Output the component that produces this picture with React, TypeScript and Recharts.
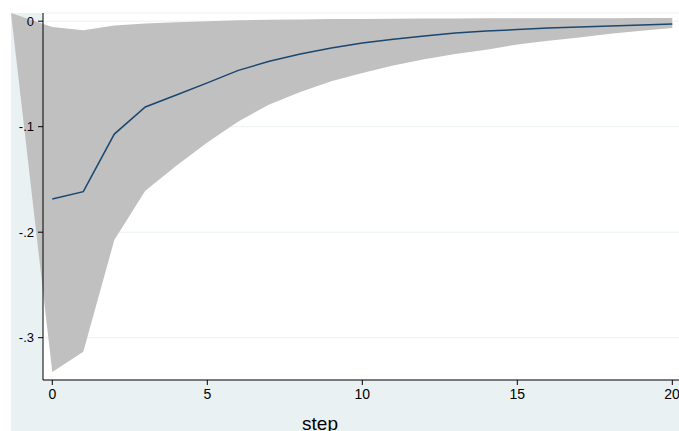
import { Area, CartesianGrid, ComposedChart, Line, XAxis, YAxis } from 'recharts'

// impulse response by step, with its confidence band
const STEPS = [0, 1, 2, 3, 4, 5, 6, 7, 8, 9, 10, 11, 12, 13, 14, 15, 16, 17, 18, 19, 20]
const IRF = [
  -0.1685, -0.1616, -0.107, -0.0813, -0.07, -0.0585, -0.0466, -0.038, -0.031, -0.0254, -0.0207,
  -0.017, -0.014, -0.0112, -0.0093, -0.0079, -0.0064, -0.0055, -0.0045, -0.0036, -0.0027,
]
const LOWER = [
  -0.3325, -0.3133, -0.2075, -0.1607, -0.137, -0.115, -0.095, -0.079, -0.067, -0.057, -0.049,
  -0.042, -0.036, -0.031, -0.027, -0.022, -0.0185, -0.0155, -0.012, -0.009, -0.0065,
]
const UPPER = [
  -0.0055, -0.0086, -0.004, -0.0022, -0.001, 0, 0.0008, 0.0013, 0.0017, 0.002, 0.0022,
  0.0024, 0.0025, 0.0026, 0.0027, 0.0028, 0.0028, 0.0029, 0.0029, 0.003, 0.003,
]
// stray first vertex of the shaded polygon (sits at the graph's top-left corner)
const BAND_START = { step: -1.332, value: 0.00777 }

const X_TICKS = [0, 5, 10, 15, 20]
const Y_TICKS = [-0.3, -0.2, -0.1, 0]
const X_DOMAIN: [number, number] = [-1.332, 20.216]
const Y_DOMAIN: [number, number] = [-0.3401, 0.00777]

const BG = '#EAF1F3'
const BAND = '#C0C0C0'
const NAVY = '#1A476F'
const FONT = '"Liberation Sans", Arial, sans-serif'

const data = [
  { step: BAND_START.step, band: [BAND_START.value, BAND_START.value], irf: null },
  ...STEPS.map((s, i) => ({ step: s, band: [LOWER[i], UPPER[i]], irf: IRF[i] })),
]

const fmtY = (v: number) => (v === 0 ? '0' : String(Number(v.toFixed(2))).replace('0.', '.'))

export default function App() {
  return (
    <div
      style={{ position: 'absolute', left: 0, top: 0, width: 679, height: 431, background: '#fff', fontFamily: FONT }}
    >
      <div style={{ position: 'absolute', left: 11, top: 13, right: 0, bottom: 0, background: BG }} />
      <div style={{ position: 'absolute', left: 43, top: 0, width: 636, height: 380, background: '#fff' }} />
      <ComposedChart
        width={679}
        height={431}
        data={data}
        margin={{ top: 13, right: 0, bottom: 0, left: 0 }}
        style={{ position: 'absolute', left: 0, top: 0 }}
      >
        <CartesianGrid horizontal vertical={false} stroke={BG} strokeWidth={1} />
        <XAxis
          dataKey="step"
          type="number"
          domain={X_DOMAIN}
          ticks={X_TICKS}
          padding={{ left: -32, right: 0 }}
          height={51}
          tickSize={5}
          tickMargin={4}
          stroke="#000"
          tick={{ fill: '#000', fontSize: 14, fontFamily: FONT }}
          label={{ value: 'step', position: 'insideBottom', dx: -41, offset: 1, fill: '#000', fontSize: 19, fontFamily: FONT }}
        />
        <YAxis
          type="number"
          domain={Y_DOMAIN}
          ticks={Y_TICKS}
          width={43}
          tickSize={5}
          tickMargin={4}
          stroke="#000"
          tickFormatter={fmtY}
          tick={{ fill: '#000', fontSize: 13, fontFamily: FONT }}
        />
        <Area
          type="linear"
          dataKey="band"
          stroke="none"
          fill={BAND}
          fillOpacity={1}
          isAnimationActive={false}
        />
        <Line
          type="linear"
          dataKey="irf"
          stroke={NAVY}
          strokeWidth={1.5}
          dot={false}
          isAnimationActive={false}
        />
      </ComposedChart>
    </div>
  )
}
